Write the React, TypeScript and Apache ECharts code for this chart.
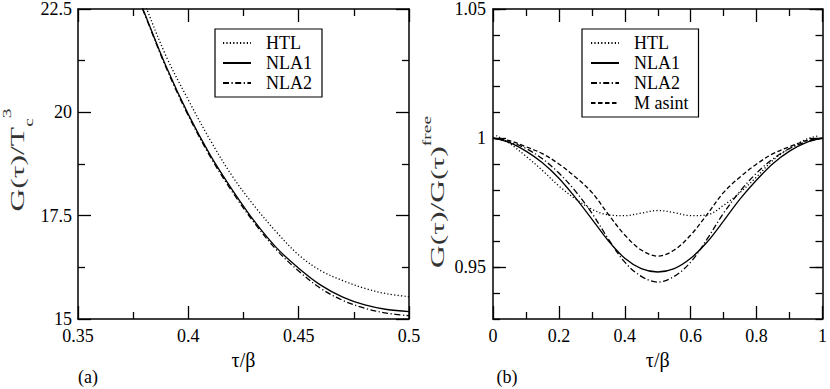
import React, { useEffect, useRef } from "react";
import * as echarts from "echarts";

// ---------- data ----------
// Panel (a): G(tau)/Tc^3 vs tau/beta
const tauA = [0.375, 0.38, 0.39, 0.4, 0.41, 0.42, 0.43, 0.44, 0.45, 0.46, 0.47, 0.48, 0.49, 0.5];
const htlA = [23.3, 22.65, 21.35, 20.3, 19.32, 18.45, 17.73, 17.1, 16.55, 16.17, 15.93, 15.74, 15.61, 15.54];
const nla1A = [23.08, 22.42, 21.1, 19.95, 18.96, 18.12, 17.36, 16.72, 16.23, 15.82, 15.53, 15.34, 15.23, 15.18];
const nla2A = [23.05, 22.4, 21.07, 19.92, 18.92, 18.07, 17.32, 16.67, 16.16, 15.74, 15.45, 15.26, 15.14, 15.08];

// Panel (b): G(tau)/G_free(tau) vs tau/beta
const tauB = [0, 0.05, 0.1, 0.15, 0.2, 0.25, 0.3, 0.35, 0.4, 0.45, 0.5, 0.55, 0.6, 0.65, 0.7, 0.75, 0.8, 0.85, 0.9, 0.95, 1];
const nla1B = [1.0, 0.9983, 0.995, 0.9905, 0.9845, 0.977, 0.9687, 0.9603, 0.9535, 0.9495, 0.9482, 0.9495, 0.9535, 0.9598, 0.968, 0.9765, 0.9838, 0.9902, 0.995, 0.9983, 1.0];
const nla2B = [1.0, 0.9985, 0.996, 0.992, 0.9865, 0.9795, 0.971, 0.961, 0.952, 0.9465, 0.9443, 0.9465, 0.952, 0.961, 0.971, 0.9795, 0.9865, 0.992, 0.996, 0.9985, 1.0];
const masB = [1.0, 0.999, 0.9967, 0.994, 0.99, 0.985, 0.979, 0.9705, 0.9625, 0.9567, 0.9543, 0.9567, 0.9625, 0.9705, 0.979, 0.985, 0.99, 0.994, 0.9967, 0.999, 1.0];
const tauHtlB = [0.01, 0.05, 0.1, 0.15, 0.2, 0.25, 0.3, 0.35, 0.4, 0.45, 0.5, 0.55, 0.6, 0.65, 0.7, 0.75, 0.8, 0.85, 0.9, 0.95, 0.99];
const htlB = [1.001, 0.998, 0.993, 0.9875, 0.9815, 0.9765, 0.9725, 0.9703, 0.97, 0.971, 0.972, 0.9712, 0.97, 0.9703, 0.974, 0.979, 0.985, 0.9915, 0.996, 0.9995, 1.001];

const legendA = ["HTL", "NLA1", "NLA2"];
const legendB = ["HTL", "NLA1", "NLA2", "M asint"];
const majorTicksB = [0.95, 1, 1.05];

const FONT = "'Liberation Serif', 'Times New Roman', serif";

const pairs = (xs: number[], ys: number[]) => xs.map((x, i) => [x, ys[i]]);

const STYLES: Record<string, any> = {
  HTL: [1.2, 2.2],
  NLA1: "solid",
  NLA2: [6, 2.5, 1.2, 2.5],
  "M asint": [4.5, 2.5],
};

function makeSeries(name: string, xs: number[], ys: number[], axis: number) {
  return {
    type: "line",
    name,
    xAxisIndex: axis,
    yAxisIndex: axis === 0 ? 0 : 2,
    data: pairs(xs, ys),
    showSymbol: false,
    symbol: "none",
    smooth: 0.35,
    clip: true,
    color: "#000",
    lineStyle: { color: "#000", width: 1.3, type: STYLES[name] },
  };
}

const lineCol = { color: "#000", width: 1.5 };

function xAxisCfg(grid: number, pos: "bottom" | "top", min: number, max: number, interval: number, labels: boolean) {
  return {
    type: "value",
    gridIndex: grid,
    position: pos,
    min,
    max,
    interval,
    axisLine: { show: true, onZero: false, lineStyle: lineCol },
    axisTick: { show: true, inside: true, length: 13, lineStyle: { color: "#000", width: 1.3 } },
    minorTick: { show: true, splitNumber: 2, length: 7, lineStyle: { color: "#000", width: 1.3 } },
    splitLine: { show: false },
    axisLabel: { show: labels, color: "#000", fontFamily: FONT, fontSize: 18, lineHeight: 14, margin: 10 },
    name: labels ? "τ/β" : "",
    nameLocation: "middle",
    nameGap: 26,
    nameTextStyle: { color: "#000", fontFamily: FONT, fontSize: 20 },
  };
}

function yAxisCfgA(pos: "left" | "right", labels: boolean) {
  return {
    type: "value",
    gridIndex: 0,
    position: pos,
    min: 15,
    max: 22.5,
    interval: 2.5,
    axisLine: { show: true, onZero: false, lineStyle: lineCol },
    axisTick: { show: true, inside: true, length: 13, lineStyle: { color: "#000", width: 1.3 } },
    minorTick: { show: true, splitNumber: 2, length: 7, lineStyle: { color: "#000", width: 1.3 } },
    splitLine: { show: false },
    axisLabel: { show: labels, color: "#000", fontFamily: FONT, fontSize: 18, lineHeight: 14, margin: 6 },
  };
}

function yAxisMinorB(pos: "left" | "right", labels: boolean) {
  return {
    type: "value",
    gridIndex: 1,
    position: pos,
    min: 0.93,
    max: 1.05,
    interval: 0.01,
    axisLine: { show: true, onZero: false, lineStyle: lineCol },
    axisTick: { show: true, inside: true, length: 7, lineStyle: { color: "#000", width: 1.3 } },
    splitLine: { show: false },
    axisLabel: {
      show: labels,
      color: "#000",
      fontFamily: FONT,
      fontSize: 18,
      lineHeight: 14,
      margin: 7,
      formatter: (v: number) => {
        const k = v * 20;
        return Math.abs(k - Math.round(k)) < 1e-6 ? String(+v.toFixed(2)) : "";
      },
    },
  };
}

function yAxisMajorB(pos: "left" | "right") {
  return {
    type: "value",
    gridIndex: 1,
    position: pos,
    min: 0.93,
    max: 1.05,
    axisLine: { show: false, onZero: false },
    axisTick: {
      show: true,
      inside: true,
      length: 13,
      customValues: majorTicksB,
      lineStyle: { color: "#000", width: 1.3 },
    },
    splitLine: { show: false },
    axisLabel: { show: false },
  };
}

function legendCfg(data: string[], left: number, top: number, padRight: number, padLeft: number) {
  return {
    data,
    orient: "vertical",
    left,
    top,
    padding: [5, padRight, 5, padLeft],
    itemGap: 2,
    itemWidth: 28,
    itemHeight: 12,
    borderColor: "#000",
    borderWidth: 1.2,
    selectedMode: false,
    itemStyle: { color: "rgba(0,0,0,0)", borderColor: "rgba(0,0,0,0)", borderWidth: 0, opacity: 0 },
    textStyle: { color: "#000", fontFamily: FONT, fontSize: 18, lineHeight: 18, padding: [0, 0, 0, 10] },
  };
}

function yTitle(x: number, y: number, text: string, rich: any) {
  return {
    type: "text",
    x,
    y,
    rotation: Math.PI / 2,
    scaleX: 1.62,
    scaleY: 1,
    style: {
      text,
      rich,
      align: "center",
      verticalAlign: "middle",
      textAlign: "center",
      textVerticalAlign: "middle",
      fill: "#333",
    },
  };
}

export default function App() {
  const ref = useRef<HTMLDivElement>(null);
  useEffect(() => {
    document.body.style.margin = "0";
    if (!ref.current) return;
    const chart = echarts.init(ref.current, null, { renderer: "svg" });
    const main = { fontFamily: FONT, fontSize: 19.5, lineHeight: 34, verticalAlign: "middle", fill: "#333" };
    const sub = { fontFamily: FONT, fontSize: 12, lineHeight: 24, verticalAlign: "bottom", fill: "#333" };
    const sup = { fontFamily: FONT, fontSize: 12, lineHeight: 13, verticalAlign: "top", fill: "#333" };
    const option: any = {
      animation: false,
      backgroundColor: "#fff",
      textStyle: { fontFamily: FONT },
      grid: [
        { left: 78, top: 8, width: 331, height: 311 },
        { left: 493, top: 8, width: 331, height: 311 },
      ],
      xAxis: [
        xAxisCfg(0, "bottom", 0.35, 0.5, 0.05, true),
        xAxisCfg(0, "top", 0.35, 0.5, 0.05, false),
        xAxisCfg(1, "bottom", 0, 1, 0.2, true),
        xAxisCfg(1, "top", 0, 1, 0.2, false),
      ],
      yAxis: [
        yAxisCfgA("left", true),
        yAxisCfgA("right", false),
        yAxisMinorB("left", true),
        yAxisMajorB("left"),
        yAxisMinorB("right", false),
        yAxisMajorB("right"),
      ],
      legend: [legendCfg(legendA, 215, 29, 10, 7), legendCfg(legendB, 582, 29, 10, 8)],
      series: [
        makeSeries("HTL", tauA, htlA, 0),
        makeSeries("NLA1", tauA, nla1A, 0),
        makeSeries("NLA2", tauA, nla2A, 0),
        makeSeries("HTL", tauHtlB, htlB, 2),
        makeSeries("NLA1", tauB, nla1B, 2),
        makeSeries("NLA2", tauB, nla2B, 2),
        makeSeries("M asint", tauB, masB, 2),
      ],
      graphic: [
        yTitle(18, 160, "{m|G(τ)/T}{sub|c}{sup|3}", { m: main, sub, sup }),
        yTitle(438, 192, "{m|G(τ)/G(τ)}{sup|free}", { m: main, sup }),
        {
          type: "text",
          x: 88,
          y: 377,
          style: { text: "(a)", fontFamily: FONT, fontSize: 18, fill: "#000", align: "center", verticalAlign: "middle", textAlign: "center", textVerticalAlign: "middle" },
        },
        {
          type: "text",
          x: 507,
          y: 377,
          style: { text: "(b)", fontFamily: FONT, fontSize: 18, fill: "#000", align: "center", verticalAlign: "middle", textAlign: "center", textVerticalAlign: "middle" },
        },
      ],
    };
    chart.setOption(option);
    return () => chart.dispose();
  }, []);
  return <div ref={ref} style={{ width: 830, height: 389, background: "#fff" }} />;
}
